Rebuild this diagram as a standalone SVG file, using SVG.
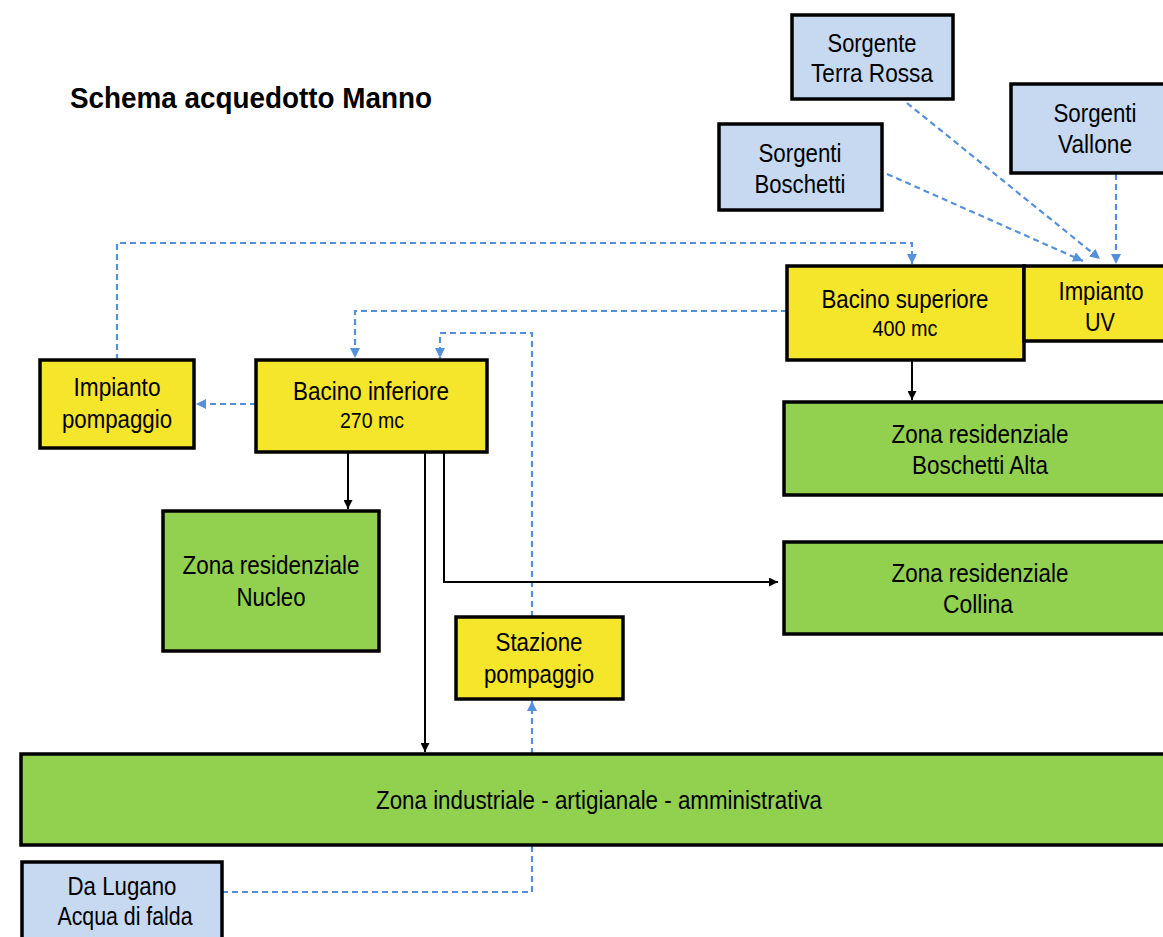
<svg xmlns="http://www.w3.org/2000/svg" width="1163" height="937" viewBox="0 0 1163 937">
<style>
.box{stroke:#000;stroke-width:3.5}
.y{fill:#F5E52B}
.g{fill:#92D050}
.b{fill:#C6D9F1}
text{font-family:"Liberation Sans",Arial,sans-serif;fill:#000;text-anchor:middle}
.t{font-size:26px}
.s{font-size:22px}
.title{font-size:29px;font-weight:bold;text-anchor:start}
.blue{fill:none;stroke:#5590DB;stroke-width:2.2;stroke-dasharray:6 4}
.blk{fill:none;stroke:#000;stroke-width:2}
.blkd{fill:none;stroke:#000;stroke-width:2.5;stroke-dasharray:6 4}
</style>
<defs>
<marker id="ab" viewBox="0 0 10 10" refX="10" refY="5" markerWidth="10" markerHeight="10" markerUnits="userSpaceOnUse" orient="auto"><path d="M0,0 L10,5 L0,10 z" fill="#5590DB"/></marker>
<marker id="ak" viewBox="0 0 10 10" refX="10" refY="5" markerWidth="9" markerHeight="9" markerUnits="userSpaceOnUse" orient="auto"><path d="M0,0 L10,5 L0,10 z" fill="#000"/></marker>
</defs>
<rect width="1163" height="937" fill="#fff"/>
<text class="title" x="70" y="108" textLength="362" lengthAdjust="spacingAndGlyphs">Schema acquedotto Manno</text>

<g id="connectors">
<path class="blue" d="M117,360 V243 H912 V264" marker-end="url(#ab)"/>
<path class="blue" d="M787,311 H355 V358" marker-end="url(#ab)"/>
<path class="blue" d="M532,617 V333 H440 V358" marker-end="url(#ab)"/>
<path class="blue" d="M256,404 H196" marker-end="url(#ab)"/>
<path class="blue" d="M532,754 V701" marker-end="url(#ab)"/>
<path class="blue" d="M222,892 H532 V845"/>
<path class="blue" d="M887,174 L1083,261" marker-end="url(#ab)"/>
<path class="blue" d="M907,103 L1100,259" marker-end="url(#ab)"/>
<path class="blue" d="M1116,174 V264" marker-end="url(#ab)"/>
<path class="blkd" d="M1067,311 H1026" marker-end="url(#ak)"/>
<path class="blk" d="M912,361 V400" marker-end="url(#ak)"/>
<path class="blk" d="M348,453 V509" marker-end="url(#ak)"/>
<path class="blk" d="M425,453 V752" marker-end="url(#ak)"/>
<path class="blk" d="M444,453 V582 H778" marker-end="url(#ak)"/>
</g>

<g id="sorgente-terra-rossa"><rect class="box b" x="792" y="15" width="161" height="84"/>
<text class="t" x="872" y="52" textLength="89" lengthAdjust="spacingAndGlyphs">Sorgente</text>
<text class="t" x="872" y="82" textLength="122" lengthAdjust="spacingAndGlyphs">Terra Rossa</text></g>

<g id="sorgenti-vallone"><rect class="box b" x="1011" y="84" width="160" height="89"/>
<text class="t" x="1095" y="122" textLength="83" lengthAdjust="spacingAndGlyphs">Sorgenti</text>
<text class="t" x="1095" y="153" textLength="74" lengthAdjust="spacingAndGlyphs">Vallone</text></g>

<g id="sorgenti-boschetti"><rect class="box b" x="719" y="124" width="163" height="86"/>
<text class="t" x="800" y="162" textLength="83" lengthAdjust="spacingAndGlyphs">Sorgenti</text>
<text class="t" x="800" y="193" textLength="91" lengthAdjust="spacingAndGlyphs">Boschetti</text></g>

<g id="bacino-superiore"><rect class="box y" x="787" y="266" width="237" height="94"/>
<text class="t" x="905" y="308" textLength="167" lengthAdjust="spacingAndGlyphs">Bacino superiore</text>
<text class="s" x="905" y="336" textLength="65" lengthAdjust="spacingAndGlyphs">400 mc</text></g>

<g id="impianto-uv"><rect class="box y" x="1024" y="266" width="150" height="75"/>
<text class="t" x="1101" y="300" textLength="85" lengthAdjust="spacingAndGlyphs">Impianto</text>
<text class="t" x="1100" y="331" textLength="30" lengthAdjust="spacingAndGlyphs">UV</text></g>

<g id="zona-boschetti-alta"><rect class="box g" x="784" y="402" width="390" height="93"/>
<text class="t" x="980" y="443" textLength="177" lengthAdjust="spacingAndGlyphs">Zona residenziale</text>
<text class="t" x="980" y="474" textLength="136" lengthAdjust="spacingAndGlyphs">Boschetti Alta</text></g>

<g id="zona-collina"><rect class="box g" x="784" y="542" width="390" height="92"/>
<text class="t" x="980" y="582" textLength="177" lengthAdjust="spacingAndGlyphs">Zona residenziale</text>
<text class="t" x="978" y="613" textLength="70" lengthAdjust="spacingAndGlyphs">Collina</text></g>

<g id="impianto-pompaggio"><rect class="box y" x="40" y="360" width="154" height="88"/>
<text class="t" x="117" y="396" textLength="87" lengthAdjust="spacingAndGlyphs">Impianto</text>
<text class="t" x="117" y="428" textLength="110" lengthAdjust="spacingAndGlyphs">pompaggio</text></g>

<g id="bacino-inferiore"><rect class="box y" x="256" y="360" width="231" height="92"/>
<text class="t" x="371" y="400" textLength="156" lengthAdjust="spacingAndGlyphs">Bacino inferiore</text>
<text class="s" x="372" y="428" textLength="64" lengthAdjust="spacingAndGlyphs">270 mc</text></g>

<g id="zona-nucleo"><rect class="box g" x="163" y="511" width="216" height="140"/>
<text class="t" x="271" y="574" textLength="177" lengthAdjust="spacingAndGlyphs">Zona residenziale</text>
<text class="t" x="271" y="606" textLength="69" lengthAdjust="spacingAndGlyphs">Nucleo</text></g>

<g id="stazione-pompaggio"><rect class="box y" x="456" y="617" width="167" height="82"/>
<text class="t" x="539" y="651" textLength="87" lengthAdjust="spacingAndGlyphs">Stazione</text>
<text class="t" x="539" y="683" textLength="110" lengthAdjust="spacingAndGlyphs">pompaggio</text></g>

<g id="zona-industriale"><rect class="box g" x="21" y="754" width="1160" height="91"/>
<text class="t" x="599" y="809" textLength="446" lengthAdjust="spacingAndGlyphs">Zona industriale - artigianale - amministrativa</text></g>

<g id="da-lugano"><rect class="box b" x="22" y="862" width="200" height="90"/>
<text class="t" x="122" y="895" textLength="109" lengthAdjust="spacingAndGlyphs">Da Lugano</text>
<text class="t" x="125" y="925" textLength="135" lengthAdjust="spacingAndGlyphs">Acqua di falda</text></g>
</svg>
